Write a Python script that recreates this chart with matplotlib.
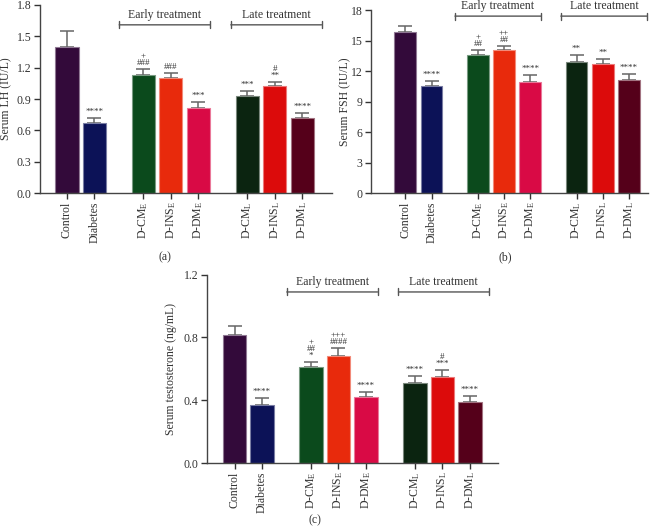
import matplotlib
matplotlib.use("Agg")
import matplotlib.pyplot as plt

plt.rcParams['font.family'] = ['Liberation Serif', 'DejaVu Serif']
plt.rcParams['mathtext.fontset'] = 'custom'
plt.rcParams['mathtext.rm'] = 'Liberation Serif'
plt.rcParams['mathtext.it'] = 'Liberation Serif:italic'

# groups and bar positions (gaps between groups)
groups = ["Control", "Diabetes",
          r"D-CM$_\mathrm{E}$", r"D-INS$_\mathrm{E}$", r"D-DM$_\mathrm{E}$",
          r"D-CM$_\mathrm{L}$", r"D-INS$_\mathrm{L}$", r"D-DM$_\mathrm{L}$"]
xpos = [0, 1, 2.78, 3.78, 4.78, 6.56, 7.56, 8.56]
colors = ["#330a3a", "#0c1257", "#0b4a1c", "#e82a0c", "#d90a45",
          "#0b2410", "#dc0b0b", "#55001a"]

# (a) LH
lh_mean = [1.40, 0.67, 1.13, 1.10, 0.81, 0.93, 1.02, 0.72]
lh_err = [0.15, 0.05, 0.06, 0.05, 0.06, 0.05, 0.045, 0.05]
lh_sig = ["", "****", "+\n###", "###", "***", "***", "#\n**", "****"]

# (b) FSH
fsh_mean = [15.87, 10.54, 13.58, 14.04, 10.93, 12.93, 12.66, 11.13]
fsh_err = [0.59, 0.46, 0.49, 0.42, 0.65, 0.65, 0.53, 0.58]
fsh_sig = ["", "****", "+\n##", "++\n##", "****", "**", "**", "****"]

# (c) testosterone
tes_mean = [0.818, 0.372, 0.61, 0.684, 0.423, 0.508, 0.55, 0.389]
tes_err = [0.055, 0.042, 0.036, 0.047, 0.032, 0.044, 0.043, 0.038]
tes_sig = ["", "****", "+\n##\n*", "+++\n####", "****", "****", "#\n***", "****"]


def lighten(c, f=0.45):
    r, g, b = matplotlib.colors.to_rgb(c)
    return (r + (1 - r) * f, g + (1 - g) * f, b + (1 - b) * f)


def panel(ax, mean, err, sig, ylab, yticks, yfmt, xlim, br_y, ylab_x):
    ax.bar(xpos, mean, width=0.84, color=colors,
           edgecolor=[lighten(c) for c in colors], linewidth=0.8, zorder=2)
    ax.errorbar(xpos, mean, yerr=[[0] * len(err), err], fmt="none",
                ecolor="#666666", elinewidth=1.1, capsize=5, capthick=1.1, zorder=1)
    for x, m, e, s in zip(xpos, mean, err, sig):
        if s:
            ax.annotate(s, xy=(x, m + e), xytext=(0, 1.5), textcoords="offset points",
                        ha="center", va="bottom", fontsize=6.5, linespacing=0.8,
                        color="#333333")
    ax.set_xlim(*xlim)
    ax.set_ylim(yticks[0], yticks[-1])
    ax.set_yticks(yticks)
    ax.set_yticklabels([yfmt.format(t) for t in yticks])
    ax.set_xticks(xpos)
    ax.set_xticklabels(groups, rotation=90)
    ax.set_ylabel(ylab, fontsize=8.5, color="#333333")
    ax.yaxis.set_label_coords(ylab_x, 0.5)
    ax.tick_params(labelsize=8.5, colors="#333333", length=4, width=1, pad=2)
    for sp in ["top", "right"]:
        ax.spines[sp].set_visible(False)
    for sp in ["left", "bottom"]:
        ax.spines[sp].set_color("#444444")
        ax.spines[sp].set_linewidth(1)
    # treatment brackets
    for (x0, x1), name in [((1.9, 5.2), "Early treatment"), ((5.96, 9.26), "Late treatment")]:
        ax.annotate("", xy=(x0, br_y), xytext=(x1, br_y),
                    arrowprops=dict(arrowstyle="|-|", mutation_scale=2.5,
                                    color="#555555", lw=1, shrinkA=0, shrinkB=0),
                    annotation_clip=False)
        ax.annotate(name, xy=((x0 + x1) / 2, br_y), xytext=(0, 3),
                    textcoords="offset points", ha="center", va="bottom",
                    fontsize=8.5, color="#333333", annotation_clip=False)


fig = plt.figure(figsize=(6.65, 5.3), dpi=100)
ax1 = fig.add_axes([0.0602, 0.6358, 0.4390, 0.3548])
ax2 = fig.add_axes([0.5579, 0.6358, 0.4165, 0.3453])
ax3 = fig.add_axes([0.3113, 0.1264, 0.4376, 0.3553])

panel(ax1, lh_mean, lh_err, lh_sig, "Serum LH (IU/L)",
      [0, 0.3, 0.6, 0.9, 1.2, 1.5, 1.8], "{:.1f}", (-0.98, 9.64), 1.61, -0.095)
panel(ax2, fsh_mean, fsh_err, fsh_sig, "Serum FSH (IU/L)",
      [0, 3, 6, 9, 12, 15, 18], "{:d}", (-1.32, 9.3), 17.4, -0.07)
panel(ax3, tes_mean, tes_err, tes_sig, "Serum testosterone (ng/mL)",
      [0, 0.4, 0.8, 1.2], "{:.1f}", (-1.0, 9.58), 1.09, -0.103)

# panel letters
for px, py, lab in [(165, 257, "(a)"), (505, 257, "(b)"), (315, 520, "(c)")]:
    fig.text(px / 665, 1 - py / 530, lab, ha="center", va="center",
             fontsize=8.5, color="#333333")

fig.savefig("out.png", dpi=100)
